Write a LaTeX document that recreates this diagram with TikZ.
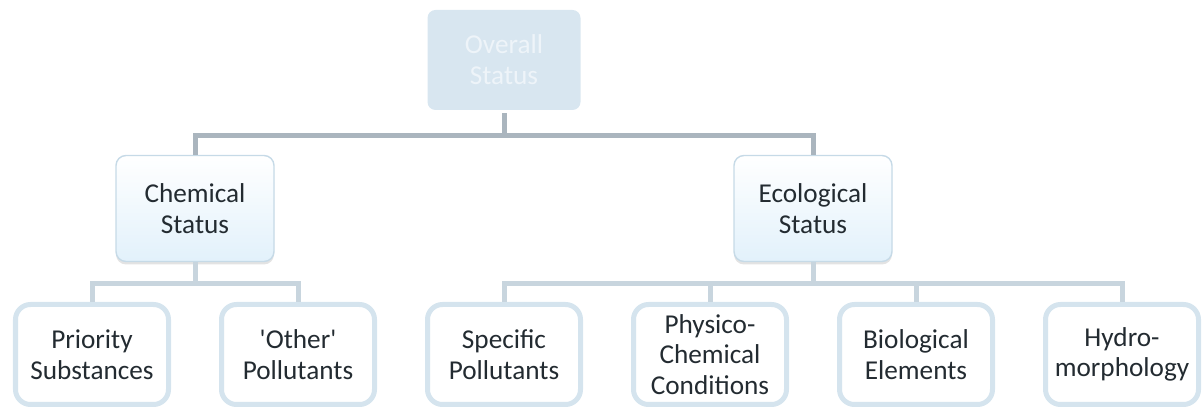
\documentclass[tikz,border=0pt]{standalone}
\usepackage{fontspec}
\setmainfont{Carlito}
\usepackage{tikz}
\usetikzlibrary{calc,positioning,shadows}
\definecolor{ovFill}{HTML}{D8E6F0}
\definecolor{ovText}{HTML}{EEF4F9}
\definecolor{stBorder}{HTML}{C6DAE7}
\definecolor{stBottom}{HTML}{E2F1FB}
\definecolor{elBorder}{HTML}{D5E4EE}
\definecolor{lnTop}{HTML}{AAB5BE}
\definecolor{lnLow}{HTML}{C8D5DE}
\definecolor{txDark}{HTML}{232B31}
\tikzset{
  topbox/.style={rectangle, rounded corners=0.16cm, fill=ovFill, text=ovText, minimum width=3.06cm, minimum height=2.0cm, align=center, font=\fontsize{15.5}{17.5}\selectfont},
  statbox/.style={rectangle, rounded corners=0.2cm, draw=stBorder, line width=0.8pt, top color=white, bottom color=stBottom, drop shadow={opacity=0.22, shadow xshift=0pt, shadow yshift=-0.06cm}, text=txDark, minimum width=3.16cm, minimum height=2.12cm, align=center, font=\fontsize{15.5}{17.5}\selectfont},
  elembox/.style={rectangle, rounded corners=0.3cm, draw=elBorder, line width=0.1cm, fill=white, text=txDark, minimum width=3.06cm, minimum height=2.0cm, inner sep=1pt, align=center, font=\fontsize{15.5}{17.5}\selectfont},
  lineT/.style={draw=lnTop, line width=0.1cm},
  lineB/.style={draw=lnLow, line width=0.1cm}
}

\begin{document}
\begin{tikzpicture}
    \useasboundingbox (0,0) rectangle (24.04,8.2);
    \node [elembox] (prioP) at (1.84,1.11) {Priority\\Substances};
    \node [elembox, right=0.96cm of prioP] (othP) {\textquotesingle Other\textquotesingle\\Pollutants};
    \node [elembox, right=0.96cm of othP] (specP) {Specific\\Pollutants};
    \node [elembox, right=0.96cm of specP] (physC) {Physico-\\Chemical\\Conditions};
    \node [elembox, right=0.96cm of physC] (bioE) {Biological\\Elements};
    \node [elembox, right=0.96cm of bioE] (hydM) {Hydro-\\morphology};
    \node [statbox] (chemS) at ($(prioP)!0.5!(othP)+(0,2.92)$) {Chemical\\Status};
    \node [statbox] (ecoS) at ($(specP)!0.5!(hydM)+(0,2.92)$) {Ecological\\Status};
    \node [topbox] (ovS) at ($(chemS)!0.5!(ecoS)+(0,2.97)$) {Overall\\Status};
    \draw [lineT] ([yshift=-0.06cm]ovS.south) -- ++(0,-0.44) -| (chemS.north);
    \draw [lineT] ([yshift=-0.06cm]ovS.south) -- ++(0,-0.44) -| (ecoS.north);
    \draw [lineB] (chemS.south) -- ++(0,-0.42) -| (prioP.north);
    \draw [lineB] (chemS.south) -- ++(0,-0.42) -| (othP.north);
    \draw [lineB] (ecoS.south) -- ++(0,-0.42) -| (specP.north);
    \draw [lineB] (ecoS.south) -- ++(0,-0.42) -| (physC.north);
    \draw [lineB] (ecoS.south) -- ++(0,-0.42) -| (bioE.north);
    \draw [lineB] (ecoS.south) -- ++(0,-0.42) -| (hydM.north);
\end{tikzpicture}
\end{document}
